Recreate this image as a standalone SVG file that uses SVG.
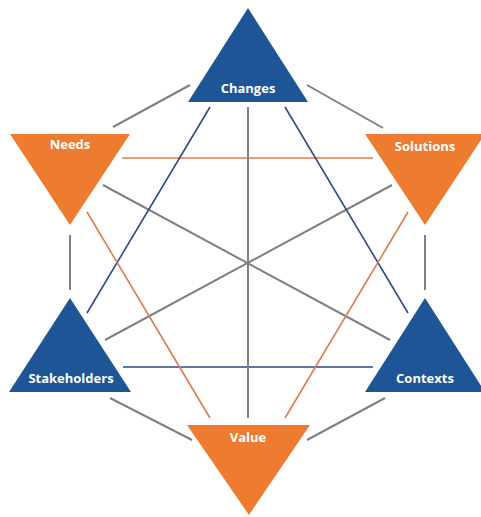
<svg xmlns="http://www.w3.org/2000/svg" width="481" height="517" viewBox="0 0 481 517">
<style>
.bg{fill:#ffffff}
.blue{fill:#1e5596}
.orange{fill:#ee7c30}
.lbl{font-family:"Open Sans","Liberation Sans",sans-serif;font-weight:700;font-size:13px;fill:#ffffff;text-anchor:middle}
.g{stroke:#7f7f85;stroke-width:2;fill:none}
.b{stroke:#2c4a86;stroke-width:1.6;fill:none}
.o{stroke:#e07a4a;stroke-width:1.6;fill:none}
</style>
<rect class="bg" x="0" y="0" width="481" height="517"/>
<g id="connectors">
  <line class="g" x1="190" y1="85" x2="113" y2="127"/>
  <line class="g" x1="307" y1="85" x2="383" y2="128"/>
  <line class="g" x1="70" y1="235" x2="70" y2="290"/>
  <line class="g" x1="425" y1="235" x2="425" y2="290"/>
  <line class="g" x1="110" y1="398" x2="192" y2="440"/>
  <line class="g" x1="385" y1="398" x2="307" y2="440"/>
  <line class="o" x1="122" y1="158" x2="373" y2="158"/>
  <line class="b" x1="123" y1="367" x2="373" y2="367"/>
  <line class="g" x1="248" y1="107" x2="248" y2="418"/>
  <line class="g" x1="103" y1="185" x2="390" y2="340"/>
  <line class="g" x1="392" y1="185" x2="105" y2="340"/>
  <line class="b" x1="210" y1="107" x2="87" y2="313"/>
  <line class="b" x1="285" y1="107" x2="408" y2="313"/>
  <line class="o" x1="87" y1="212" x2="210" y2="418"/>
  <line class="o" x1="408" y1="212" x2="285" y2="418"/>
</g>
<g id="changes">
  <polygon class="blue" points="248,8 188,102 308,102"/>
  <text class="lbl" x="248" y="93">Changes</text>
</g>
<g id="needs">
  <polygon class="orange" points="10,134 130,134 70,225"/>
  <text class="lbl" x="70" y="149">Needs</text>
</g>
<g id="solutions">
  <polygon class="orange" points="365,134 485,134 425,225"/>
  <text class="lbl" x="425" y="151">Solutions</text>
</g>
<g id="stakeholders">
  <polygon class="blue" points="70,298 9,392 131,392"/>
  <text class="lbl" x="71" y="383">Stakeholders</text>
</g>
<g id="contexts">
  <polygon class="blue" points="425,298 365,392 485,392"/>
  <text class="lbl" x="425" y="383">Contexts</text>
</g>
<g id="value">
  <polygon class="orange" points="187,425 310,425 249,515"/>
  <text class="lbl" x="248" y="442">Value</text>
</g>
</svg>
